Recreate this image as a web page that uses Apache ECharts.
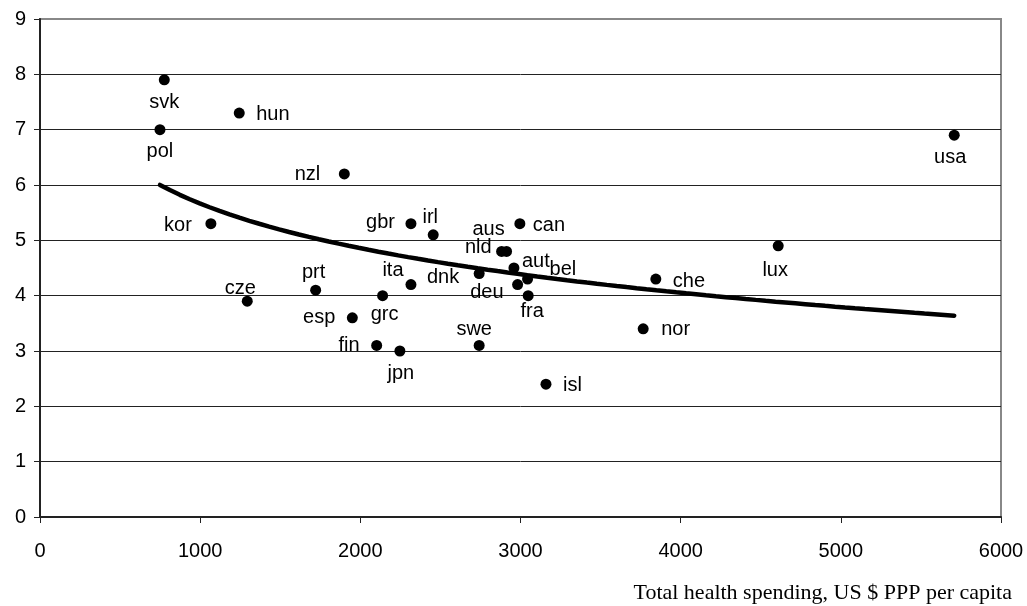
<!DOCTYPE html>
<html>
<head>
<meta charset="utf-8">
<script src="https://cdn.jsdelivr.net/npm/echarts@6/dist/echarts.min.js"></script>
<style>
  html, body { margin: 0; padding: 0; background: #fff; }
  #chart { width: 1027px; height: 606px; }
</style>
</head>
<body>
<div id="chart"></div>
<script>
// Country codes, health spending per capita (US $ PPP) and the indicator value
const codes = ['svk','hun','pol','nzl','kor','cze','prt','esp','grc','fin','jpn','gbr','ita','irl','dnk','swe','aus','nld','aut','deu','can','bel','fra','isl','nor','che','lux','usa'];
const spending = [776,1244,749,1900,1067,1294,1721,1950,2139,2102,2247,2316,2316,2455,2742,2742,2882,2913,2959,2982,2996,3044,3048,3159,3766,3845,4609,5708];
const values = [7.9,7.3,7.0,6.2,5.3,3.9,4.1,3.6,4.0,3.1,3.0,5.3,4.2,5.1,4.4,3.1,4.8,4.8,4.5,4.2,5.3,4.3,4.0,2.4,3.4,4.3,4.9,6.9];
const xTicks = [0,1000,2000,3000,4000,5000,6000];
const yTicks = [0,1,2,3,4,5,6,7,8,9];

const DOT = 11;

// Where each country's label sits relative to its dot: [dx, dy, align]
const labelPlacement = {
  svk: [0, 23, 'center'], hun: [17, 1, 'left'], pol: [0, 22, 'center'],
  nzl: [-24, 1, 'right'], kor: [-19, 2, 'right'], cze: [-7, -13, 'center'],
  prt: [-2, -18, 'center'], esp: [-17, 0, 'right'], grc: [2, 19, 'center'],
  fin: [-17, 0, 'right'], jpn: [1, 22, 'center'], gbr: [-16, -1, 'right'],
  ita: [-18, -14, 'center'], irl: [-3, -17, 'center'], dnk: [-20, 4, 'right'],
  swe: [-5, -16, 'center'], aus: [-13, -22, 'center'], nld: [-15, -4, 'right'],
  aut: [8, -7, 'left'], deu: [-14, 8, 'right'], can: [13, 2, 'left'],
  bel: [22, -10, 'left'], fra: [4, 16, 'center'], isl: [17, 1, 'left'],
  nor: [18, 1, 'left'], che: [17, 2, 'left'], lux: [-3, 25, 'center'],
  usa: [-4, 22, 'center']
};

// Logarithmic least-squares trend: y = a + b * ln(x)
function logTrend(xs, ys) {
  const n = xs.length;
  let sl = 0, sy = 0, sll = 0, sly = 0;
  for (let i = 0; i < n; i++) {
    const l = Math.log(xs[i]);
    sl += l; sy += ys[i]; sll += l * l; sly += l * ys[i];
  }
  const b = (n * sly - sl * sy) / (n * sll - sl * sl);
  const a = (sy - b * sl) / n;
  return x => a + b * Math.log(x);
}
const trend = logTrend(spending, values);
const xMin = Math.min(...spending), xMax = Math.max(...spending);
const trendData = [];
for (let i = 0; i <= 80; i++) {
  const x = xMin + (xMax - xMin) * i / 80;
  trendData.push([x, trend(x)]);
}

const points = codes.map((c, i) => {
  const p = labelPlacement[c];
  return {
    name: c,
    value: [spending[i], values[i]],
    label: {
      show: true,
      position: [DOT / 2 + p[0], DOT / 2 + p[1]],
      align: p[2],
      verticalAlign: 'middle',
      formatter: c
    }
  };
});

const font = 'Liberation Sans, Arial, sans-serif';
const chart = echarts.init(document.getElementById('chart'), null, { renderer: 'canvas' });
chart.setOption({
  animation: false,
  backgroundColor: '#fff',
  title: {
    text: 'Total health spending, US $ PPP per capita',
    right: 10, top: 577,
    textStyle: { fontFamily: 'Liberation Serif, Times New Roman, serif', fontSize: 22, fontWeight: 'normal', color: '#000' }
  },
  grid: {
    left: 40, right: 26, top: 19, bottom: 89,
    show: true, borderColor: '#888', borderWidth: 2, backgroundColor: '#fff'
  },
  xAxis: {
    type: 'value', min: xTicks[0], max: xTicks[xTicks.length - 1], interval: 1000,
    axisLine: { show: true, onZero: false, lineStyle: { color: '#222', width: 2 } },
    axisTick: { show: true, length: 6, lineStyle: { color: '#222', width: 1 } },
    axisLabel: { color: '#000', fontSize: 20, fontFamily: font, margin: 24, formatter: v => String(v) },
    splitLine: { show: false }
  },
  yAxis: {
    type: 'value', min: yTicks[0], max: yTicks[yTicks.length - 1], interval: 1,
    axisLine: { show: true, onZero: false, lineStyle: { color: '#222', width: 2 } },
    axisTick: { show: true, length: 6, lineStyle: { color: '#222', width: 1 } },
    axisLabel: { color: '#000', fontSize: 20, fontFamily: font, margin: 14, formatter: v => String(v) },
    splitLine: { show: true, showMaxLine: false, showMinLine: false, lineStyle: { color: '#222', width: 1 } }
  },
  series: [
    {
      type: 'line',
      data: trendData,
      showSymbol: false,
      smooth: false,
      lineStyle: { color: '#000', width: 4.5, cap: 'round' },
      z: 2
    },
    {
      type: 'scatter',
      data: points,
      symbol: 'circle',
      symbolSize: DOT,
      itemStyle: { color: '#000', opacity: 1 },
      label: { color: '#000', fontSize: 20, fontFamily: font },
      labelLayout: { hideOverlap: false },
      emphasis: { disabled: true },
      z: 3
    }
  ]
});
</script>
</body>
</html>
